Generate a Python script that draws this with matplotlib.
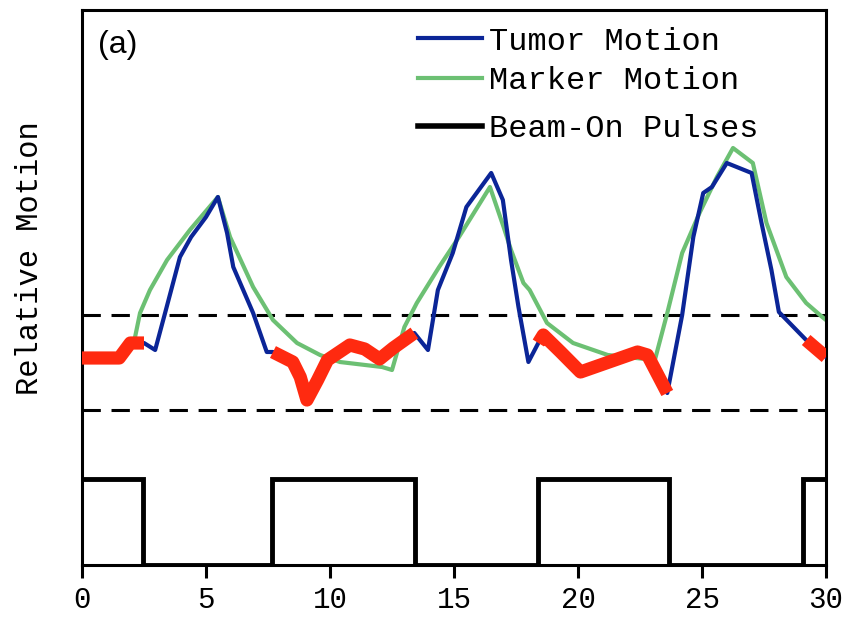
import numpy as np
import matplotlib
matplotlib.use("Agg")
import matplotlib.pyplot as plt
from matplotlib.lines import Line2D

# ---- data (time in s, relative motion in arbitrary units) ----
tumor_t = [0, 1.5, 1.95, 2.5, 2.95, 3.35, 3.95, 4.4, 5.0, 5.48, 5.85, 6.1, 6.9, 7.45,
           7.7, 8.5, 8.8, 9.07, 9.5, 9.9, 10.8, 11.4, 12.0, 12.55, 13.4, 13.95, 14.35,
           14.95, 15.5, 16.5, 16.97, 17.3, 17.6, 18.0, 18.4, 18.6, 19.3, 20.1, 22.4,
           22.8, 23.6, 24.2, 24.65, 25.05, 25.4, 26.0, 27.0, 27.4, 27.8, 28.1, 29.2, 30.0]
tumor_y = [20.7, 20.7, 22.2, 22.2, 21.5, 25.2, 30.8, 32.8, 34.8, 36.8, 33.2, 29.8, 25.2, 21.3,
           21.3, 20.3, 18.8, 16.5, 18.5, 20.5, 22.0, 21.6, 20.6, 21.7, 23.2, 21.5, 27.5,
           31.2, 35.8, 39.2, 36.5, 30.5, 25.8, 20.3, 22.2, 23.0, 21.3, 19.3, 21.3,
           21.0, 17.2, 25.0, 32.8, 37.2, 37.8, 40.2, 39.2, 34.2, 29.5, 25.3, 22.5, 20.8]

marker_t = [0, 1.5, 2.0, 2.14, 2.34, 2.74, 3.43, 4.35, 5.48, 5.97, 6.9, 7.7, 8.67, 9.6,
            10.4, 12.1, 12.5, 13.0, 13.5, 14.4, 15.2, 16.45, 17.0, 17.3, 17.8, 18.05, 18.75,
            19.8, 21.2, 23.1, 23.6, 24.2, 24.9, 25.6, 26.25, 27.05, 27.6, 28.4, 29.2, 29.85, 30.0]
marker_y = [21.0, 21.0, 22.0, 22.8, 25.2, 27.5, 30.5, 33.5, 36.8, 32.8, 27.8, 24.5, 22.2, 21.0,
            20.3, 19.8, 19.5, 23.8, 26.2, 29.8, 32.8, 37.8, 33.8, 31.5, 28.2, 27.5, 24.2,
            22.2, 21.0, 20.5, 25.2, 31.2, 35.2, 38.8, 41.7, 40.2, 34.2, 28.8, 26.2, 24.8, 24.5]

# beam-on pulses: edges and on/off state
pulse_edges = [0, 2.46, 7.66, 13.43, 18.4, 23.67, 29.07, 30]
pulse_state = [1, 0, 1, 0, 1, 0, 1]
pulse_height = 8.6

# gating window
gate_lower = 15.5
gate_upper = 25.0

xticks = [0, 5, 10, 15, 20, 25, 30]

# ---- figure ----
fig = plt.figure(figsize=(8.46, 6.21), dpi=100)
ax = fig.add_axes([82/846, 56/621, 744/846, 555/621])

tt = np.array(tumor_t)
ty = np.array(tumor_y)

blue = "#0b2597"
green = "#6cc073"
red = "#ff2a10"

ax.axhline(gate_upper, color="black", lw=2.2, dashes=(6, 3.5), zorder=1)
ax.axhline(gate_lower, color="black", lw=2.2, dashes=(6, 3.5), zorder=1)

ax.plot(tt, ty, color=blue, lw=3.0, zorder=3)
ax.plot(marker_t, marker_y, color=green, lw=3.0, zorder=2)

# red: tumor motion during beam-on
for i, s in enumerate(pulse_state):
    if s == 1:
        a, b = pulse_edges[i], pulse_edges[i + 1]
        m = (tt >= a - 0.1) & (tt <= b + 0.1)
        ax.plot(tt[m], ty[m], color=red, lw=9.5, solid_joinstyle="round",
                solid_capstyle="butt", zorder=4)

ax.stairs(np.array(pulse_state) * pulse_height, pulse_edges, baseline=None,
          color="black", lw=3.5, zorder=5)

ax.set_xlim(0, 30)
ax.set_ylim(0, 55.5)
ax.set_xticks(xticks)
ax.set_xticklabels([str(v) for v in xticks],
                   fontdict={"family": ["Liberation Mono", "DejaVu Sans Mono"], "size": 21})
ax.set_yticks([])
ax.tick_params(axis="x", direction="out", length=9, width=2.2, pad=6)
for sp in ax.spines.values():
    sp.set_linewidth(2.2)
    sp.set_color("black")

ax.set_ylabel("Relative Motion", family=["Liberation Mono", "DejaVu Sans Mono"], fontsize=22)
ax.yaxis.set_label_coords(-0.05, 0.553)

ax.text(0.022, 0.937, "(a)", transform=ax.transAxes, family="Liberation Sans",
        fontsize=23, va="center", ha="left")

h_t = Line2D([], [], color=blue, lw=3.0)
h_m = Line2D([], [], color=green, lw=3.0)
h_b = Line2D([], [], color="black", lw=4.0)
legfont = {"family": ["Liberation Mono", "DejaVu Sans Mono"], "size": 23}
leg1 = ax.legend([h_t, h_m], ["Tumor Motion", "Marker Motion"], loc="upper left",
                 bbox_to_anchor=(0.435, 0.993), frameon=False, prop=legfont,
                 handlelength=2.0, handletextpad=0.2, labelspacing=0.3, borderaxespad=0)
ax.add_artist(leg1)
ax.legend([h_b], ["Beam-On Pulses"], loc="upper left", bbox_to_anchor=(0.435, 0.835),
          frameon=False, prop=legfont, handlelength=2.0, handletextpad=0.2, borderaxespad=0)

fig.savefig("out.png", dpi=100)
